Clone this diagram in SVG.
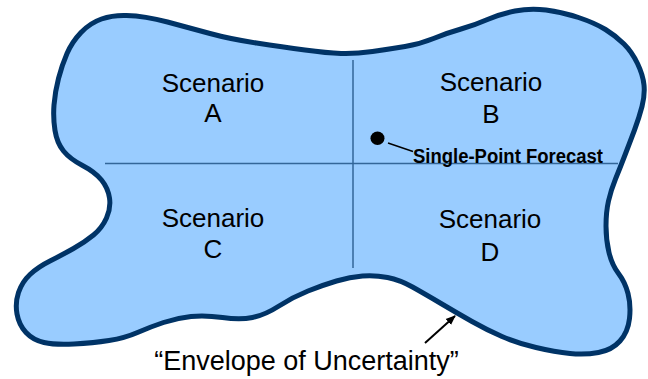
<svg xmlns="http://www.w3.org/2000/svg" width="648" height="379" viewBox="0 0 648 379">
<style>
.lbl{font-family:"Liberation Sans",Arial,sans-serif;font-size:26px;fill:#000;text-anchor:middle}
.grid{stroke:#336699;stroke-width:1.5;fill:none}
</style>
<defs>
<marker id="ah" markerWidth="10" markerHeight="10" refX="9" refY="5" orient="auto" markerUnits="userSpaceOnUse">
<path d="M0,1 L10,5 L0,9 Z" fill="#000"/>
</marker>
</defs>
<rect width="648" height="379" fill="#fff"/>
<g id="envelope">
<path d="M101.5,19 Q113,15 126.5,15.5 Q145,16 167.5,22 Q190,28 210,33.5 Q230,39 256.5,43 Q283,47 305,50 Q327,53 341,53.5 Q355,54 372.5,51.5 Q390,49 405,46.5 Q420,44 433.5,38.5 Q447,33 461,29 Q475,25 487.5,19.5 Q500,14 515,11 Q530,8 546,10 Q562,12 578.5,17.5 Q595,23 605.5,29.5 Q616,36 624,44 Q632,52 637.5,63.5 Q643,75 644,85 Q645,95 642,106.5 Q639,118 634.5,130 Q630,142 625,155 Q620,168 615.5,179 Q611,190 608.5,201 Q606,212 606,226 Q606,240 609,252.5 Q612,265 618.5,273.5 Q625,282 628,293.5 Q631,305 629.5,318.5 Q628,332 620,341 Q612,350 598.5,352.5 Q585,355 570,353.5 Q555,352 536,347.5 Q517,343 502,336.5 Q487,330 472,321.5 Q457,313 441,303.5 Q425,294 412.5,287 Q400,280 387.5,277.5 Q375,275 362.5,276 Q350,277 336.5,281 Q323,285 308,291 Q293,297 279,306 Q265,315 252.5,317.5 Q240,320 222.5,317.5 Q205,315 191,316.5 Q177,318 163.5,322.5 Q150,327 137.5,332.5 Q125,338 109,340.5 Q93,343 74,344 Q55,345 44,342.5 Q33,340 26,332.5 Q19,325 17,314 Q15,303 18.5,292.5 Q22,282 30,274.5 Q38,267 50,261 Q62,255 73.5,248.5 Q85,242 93.5,235 Q102,228 106.5,218 Q111,208 109.5,198 Q108,188 101.5,180 Q95,172 82.5,165.5 Q70,159 63.5,151 Q57,143 55,130.5 Q53,118 54,105 Q55,92 58.5,78.5 Q62,65 67,53.5 Q72,42 81,32.5 Q90,23 101.5,19 Z" fill="#99CCFF" stroke="#003366" stroke-width="5" stroke-linejoin="round"/>
</g>
<g id="axes">
<line class="grid" x1="105" y1="163.5" x2="618" y2="163.5"/>
<line class="grid" x1="353" y1="60" x2="353" y2="268"/>
</g>
<g id="scenario-a">
<text class="lbl" x="213" y="92">Scenario</text>
<text class="lbl" x="213" y="122">A</text>
</g>
<g id="scenario-b">
<text class="lbl" x="491" y="91">Scenario</text>
<text class="lbl" x="491" y="123">B</text>
</g>
<g id="scenario-c">
<text class="lbl" x="213" y="227">Scenario</text>
<text class="lbl" x="213" y="258">C</text>
</g>
<g id="scenario-d">
<text class="lbl" x="490" y="228">Scenario</text>
<text class="lbl" x="490" y="261">D</text>
</g>
<g id="forecast">
<ellipse cx="377.5" cy="138.3" rx="7" ry="6.7" fill="#000"/>
<text x="413" y="163" font-family="Liberation Sans, Arial, sans-serif" font-size="19.5" font-weight="bold" fill="#000" textLength="190" lengthAdjust="spacingAndGlyphs">Single-Point Forecast</text>
</g>
<g id="envelope-label">
<text class="lbl" x="306.5" y="370" style="font-size:27px">“Envelope of Uncertainty”</text>
</g>
<g id="connectors">
<line x1="388" y1="143" x2="413" y2="151.5" stroke="#000" stroke-width="1.5"/>
<line x1="425" y1="343" x2="455" y2="316" stroke="#000" stroke-width="2" marker-end="url(#ah)"/>
</g>
</svg>
